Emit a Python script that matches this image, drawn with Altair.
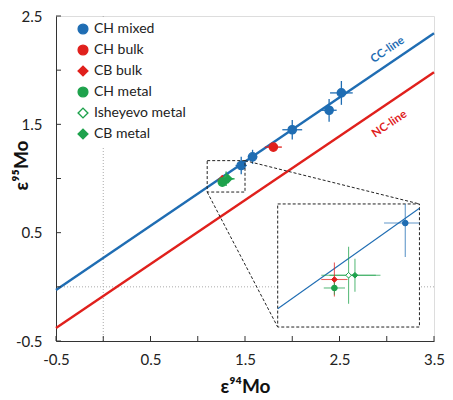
import json
import altair as alt
import pandas as pd

# ---------------- data ----------------
series = ["CH mixed", "CH mixed", "CH mixed", "CH mixed", "CH mixed",
          "CH bulk", "CB bulk", "Isheyevo metal", "CH metal", "CB metal"]
e94 = [2.52, 2.39, 2.00, 1.58, 1.46, 1.80, 1.26, 1.30, 1.26, 1.318]
e95 = [1.79, 1.63, 1.45, 1.20, 1.12, 1.29, 0.987, 0.997, 0.967, 0.997]
e94_err = [0.12, 0.08, 0.105, 0.05, 0.06, 0.09, 0.037, 0.077, 0.03, 0.072]
e95_err = [0.11, 0.105, 0.09, 0.065, 0.08, 0.03, 0.04, 0.067, 0.016, 0.039]

legend_order = ["CH mixed", "CH bulk", "CB bulk", "CH metal", "Isheyevo metal", "CB metal"]

cc_x = [-0.5, 3.5]
cc_y = [-0.03, 2.34]
nc_x = [-0.5, 3.5]
nc_y = [-0.38, 1.98]

line_labels = ["CC-line", "NC-line"]
line_label_x = [3.01, 3.03]
line_label_y = [2.185, 1.50]

x_ticks = [-0.5, 0, 0.5, 1, 1.5, 2, 2.5, 3, 3.5]
x_labels = [-0.5, 0.5, 1.5, 2.5, 3.5]
y_ticks = [-0.5, 0, 0.5, 1, 1.5, 2, 2.5]
y_labels = [-0.5, 0.5, 1.5, 2.5]

# ---------------- layout / style ----------------
W, H = 378, 325
PAD = {"left": 48, "top": 8, "right": 11, "bottom": 57}
X_DOM = [-0.5, 3.5]
Y_DOM = [-0.5, 2.5]
ZOOM_X = [1.1, 1.5]          # zoomed region (data units)
ZOOM_Y = [0.875, 1.165]
BOX_X = [1.846, 3.346]       # inset box position (main data units)
BOX_Y = [-0.371, 0.765]

BLUE = "#1f6db3"
RED = "#e0201c"
GREEN = "#1ea24c"
FONT = "Lato"

fill_range = [BLUE, RED, RED, GREEN, "white", GREEN]
stroke_range = [BLUE, RED, RED, GREEN, GREEN, GREEN]
shape_range = ["circle", "circle", "diamond", "circle", "diamond", "diamond"]

df = pd.DataFrame({"series": series, "e94": e94, "e95": e95,
                   "ex": e94_err, "ey": e95_err})

NAMES = json.dumps(legend_order)


def lookup(rng):
    return f"{json.dumps(rng)}[indexof({NAMES}, datum.series)]"


xs = alt.Scale(domain=X_DOM, nice=False, zero=False)
ys = alt.Scale(domain=Y_DOM, nice=False, zero=False)

fill_s = alt.Scale(domain=legend_order, range=fill_range)
stroke_s = alt.Scale(domain=legend_order, range=stroke_range)
shape_s = alt.Scale(domain=legend_order, range=shape_range)

lbl = "replace(format(datum.value, '.1f'), '\u2212', '-')"

x_axis = alt.Axis(values=x_labels, ticks=False, tickSize=0, grid=False,
                  labelPadding=11, labelFontSize=15, labelColor="#222",
                  labelFont=FONT, labelExpr=lbl, domainColor="#333",
                  labelFlush=False, labelOverlap=False,
                  title="ε⁹⁴Mo", titleFontSize=19, titleFontWeight="bold",
                  titleFont=FONT, titleColor="#111", titleY=45,
                  titleBaseline="middle")
y_axis = alt.Axis(values=y_labels, ticks=False, tickSize=0, grid=False,
                  labelPadding=14, labelFontSize=15, labelColor="#222",
                  labelFont=FONT, labelExpr=lbl, domainColor="#333",
                  labelFlush=False, labelOverlap=False,
                  title="ε⁹⁵Mo", titleFontSize=19, titleFontWeight="bold",
                  titleFont=FONT, titleColor="#111", titleAngle=270,
                  titleX=-35, titleY=149, titleAlign="center",
                  titleBaseline="middle")


def X(field):
    return alt.X(field, scale=xs, axis=x_axis)


def Y(field):
    return alt.Y(field, scale=ys, axis=y_axis)


# ---------------- main panel ----------------
cc = alt.Chart(pd.DataFrame({"x": cc_x, "y": cc_y})).mark_line(
    color=BLUE, strokeWidth=2.4).encode(x=X("x:Q"), y=Y("y:Q"))
nc = alt.Chart(pd.DataFrame({"x": nc_x, "y": nc_y})).mark_line(
    color=RED, strokeWidth=2.4).encode(x=X("x:Q"), y=Y("y:Q"))

zero_v = alt.Chart(pd.DataFrame({"v": [0]})).mark_rule(
    color="#aaa", strokeDash=[1, 2], strokeWidth=1).encode(x=X("v:Q"))
zero_h = alt.Chart(pd.DataFrame({"v": [0]})).mark_rule(
    color="#aaa", strokeDash=[1, 2], strokeWidth=1).encode(y=Y("v:Q"))

xt = alt.Chart(pd.DataFrame({"t": x_ticks})).mark_rule(color="#333").encode(
    x=X("t:Q"), y=alt.value(H), y2=alt.value(H - 5))
yt = alt.Chart(pd.DataFrame({"t": y_ticks})).mark_rule(color="#333").encode(
    y=Y("t:Q"), x=alt.value(0), x2=alt.value(5))

err_base = alt.Chart(df).transform_calculate(
    xlo="datum.e94 - datum.ex", xhi="datum.e94 + datum.ex",
    ylo="datum.e95 - datum.ey", yhi="datum.e95 + datum.ey",
    scol=lookup(stroke_range), fcol=lookup(fill_range), shp=lookup(shape_range))

ex_main = err_base.mark_rule(strokeWidth=1.3).encode(
    x=X("xlo:Q"), x2="xhi:Q", y=Y("e95:Q"),
    stroke=alt.Stroke("scol:N", scale=None))
ey_main = err_base.mark_rule(strokeWidth=1.3).encode(
    y=Y("ylo:Q"), y2="yhi:Q", x=X("e94:Q"),
    stroke=alt.Stroke("scol:N", scale=None))

pts_main = alt.Chart(df).mark_point(filled=True, size=70, opacity=1,
                                    strokeWidth=1.3).encode(
    x=X("e94:Q"), y=Y("e95:Q"),
    fill=alt.Fill("series:N", scale=fill_s, title=None,
                  legend=alt.Legend(orient="none", legendX=15, legendY=1,
                                    fillColor="white", padding=5,
                                    labelFont=FONT, labelFontSize=14,
                                    labelColor="#222", symbolSize=95,
                                    symbolStrokeWidth=1.4, rowPadding=5,
                                    labelOffset=4)),
    stroke=alt.Stroke("series:N", scale=stroke_s, title=None),
    shape=alt.Shape("series:N", scale=shape_s, title=None))

box_df = pd.DataFrame({"x": [ZOOM_X[0]], "x2": [ZOOM_X[1]],
                       "y": [ZOOM_Y[0]], "y2": [ZOOM_Y[1]]})
small_box = alt.Chart(box_df).mark_rect(
    fillOpacity=0, stroke="#222", strokeDash=[3, 2], strokeWidth=1).encode(
    x=X("x:Q"), x2="x2:Q", y=Y("y:Q"), y2="y2:Q")

conn_df = pd.DataFrame({"x": [ZOOM_X[0], ZOOM_X[1]], "x2": [BOX_X[0], BOX_X[1]],
                        "y": [ZOOM_Y[0], ZOOM_Y[1]], "y2": [BOX_Y[0], BOX_Y[1]]})
conn = alt.Chart(conn_df).mark_rule(color="#222", strokeDash=[3, 2], strokeWidth=1).encode(
    x=X("x:Q"), x2="x2:Q", y=Y("y:Q"), y2="y2:Q")

inset_df = pd.DataFrame({"x": [BOX_X[0]], "x2": [BOX_X[1]],
                         "y": [BOX_Y[0]], "y2": [BOX_Y[1]]})
inset_box = alt.Chart(inset_df).mark_rect(
    fill="white", stroke="#222", strokeDash=[3, 2], strokeWidth=1).encode(
    x=X("x:Q"), x2="x2:Q", y=Y("y:Q"), y2="y2:Q")

lab_df = pd.DataFrame({"label": line_labels, "x": line_label_x, "y": line_label_y})
lab_cc = alt.Chart(lab_df).transform_filter("datum.label == 'CC-line'").mark_text(
    angle=326, fontSize=11.5, font=FONT, fontWeight="bold", align="center",
    baseline="middle", color=BLUE).encode(x=X("x:Q"), y=Y("y:Q"), text="label:N")
lab_nc = alt.Chart(lab_df).transform_filter("datum.label == 'NC-line'").mark_text(
    angle=326, fontSize=11.5, font=FONT, fontWeight="bold", align="center",
    baseline="middle", color=RED).encode(x=X("x:Q"), y=Y("y:Q"), text="label:N")

main = alt.layer(zero_v, zero_h, cc, nc, xt, yt, ex_main, ey_main, pts_main,
                 small_box, conn, inset_box, lab_cc, lab_nc)

# ---------------- inset (zoom) panel ----------------
def px_x(v):
    return (v - X_DOM[0]) / (X_DOM[1] - X_DOM[0]) * W


def px_y(v):
    return (Y_DOM[1] - v) / (Y_DOM[1] - Y_DOM[0]) * H


ixs = alt.Scale(domain=ZOOM_X, range=[px_x(BOX_X[0]), px_x(BOX_X[1])],
                nice=False, zero=False, clamp=True)
iys = alt.Scale(domain=ZOOM_Y, range=[px_y(BOX_Y[0]), px_y(BOX_Y[1])],
                nice=False, zero=False, clamp=True)

slope = (cc_y[1] - cc_y[0]) / (cc_x[1] - cc_x[0])
cc_in = pd.DataFrame({"x": ZOOM_X,
                      "y": [cc_y[0] + slope * (v - cc_x[0]) for v in ZOOM_X]})
in_line = alt.Chart(cc_in).mark_line(color=BLUE, strokeWidth=1.1).encode(
    x=alt.X("x:Q", scale=ixs, axis=None), y=alt.Y("y:Q", scale=iys, axis=None))

flt = (f"datum.e94 >= {ZOOM_X[0]} && datum.e94 <= {ZOOM_X[1]} && "
       f"datum.e95 >= {ZOOM_Y[0]} && datum.e95 <= {ZOOM_Y[1]}")
in_err = err_base.transform_filter(flt)
ex_in = in_err.mark_rule(strokeWidth=1.1, opacity=0.7).encode(
    x=alt.X("xlo:Q", scale=ixs, axis=None), x2="xhi:Q",
    y=alt.Y("e95:Q", scale=iys, axis=None),
    stroke=alt.Stroke("scol:N", scale=None))
ey_in = in_err.mark_rule(strokeWidth=1.1, opacity=0.7).encode(
    y=alt.Y("ylo:Q", scale=iys, axis=None), y2="yhi:Q",
    x=alt.X("e94:Q", scale=ixs, axis=None),
    stroke=alt.Stroke("scol:N", scale=None))
pts_in = in_err.mark_point(filled=True, size=32, opacity=1, strokeWidth=1).encode(
    x=alt.X("e94:Q", scale=ixs, axis=None),
    y=alt.Y("e95:Q", scale=iys, axis=None),
    fill=alt.Fill("fcol:N", scale=None),
    stroke=alt.Stroke("scol:N", scale=None),
    shape=alt.Shape("shp:N", scale=None))

inset = alt.layer(in_line, ex_in, ey_in, pts_in)

chart = alt.layer(main, inset).resolve_scale(
    x="independent", y="independent").properties(
    width=W, height=H,
    autosize=alt.AutoSizeParams(type="none"),
    padding=PAD,
).configure_view(stroke="#333", strokeWidth=1).configure(font=FONT)

chart.save("out.html", embed_options={"renderer": "svg", "actions": False})
